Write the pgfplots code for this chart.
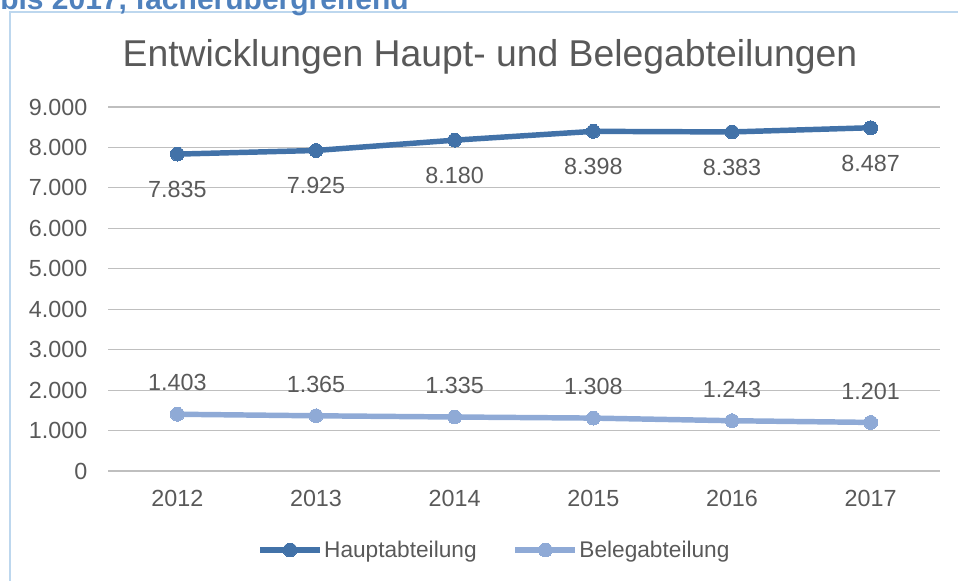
\documentclass[border=0pt]{standalone}
\usepackage{pgfplots}
\pgfplotsset{compat=1.18}
\usepackage{fontspec}
\setmainfont{Liberation Sans}
\definecolor{haupt}{RGB}{66,114,168}
\definecolor{beleg}{RGB}{143,170,214}
\definecolor{txt}{RGB}{89,89,89}
\definecolor{grid}{RGB}{217,217,217}
\definecolor{frame}{RGB}{189,215,238}
\definecolor{headblue}{RGB}{79,129,189}
\begin{document}
\begin{tikzpicture}
\useasboundingbox (0pt,0pt) rectangle (718.5pt,435.75pt);
\clip (0pt,0pt) rectangle (718.5pt,435.75pt);
\draw[frame,line width=1.1pt] (7.5pt,426.75pt) rectangle (740pt,-20pt);
\node[anchor=base west,inner sep=0pt,text=headblue,font=\fontsize{22.5}{24}\selectfont\bfseries] at (0pt,428.25pt) {bis 2017, fächerübergreifend};
\node[text=txt,font=\fontsize{28}{32}\selectfont] at (367.5pt,393pt) {Entwicklungen Haupt- und Belegabteilungen};
\begin{axis}[
  at={(81pt,82.5pt)}, anchor=south west,
  scale only axis, width=624pt, height=273pt,
  xmin=-0.5, xmax=5.5, ymin=0, ymax=9000,
  xtick={0,1,2,3,4,5},
  xticklabels={2012,2013,2014,2015,2016,2017},
  ytick={0,1000,...,9000},
  ymajorgrids, xmajorgrids=false, major grid style={grid,line width=0.9pt},
  axis line style={draw=none},
  tick style={draw=none},
  major tick length=0pt,
  tick label style={text=txt,font=\fontsize{17.5}{20}\selectfont},
  yticklabel style={xshift=-12pt},
  xticklabel style={yshift=-11pt},
  /pgf/number format/.cd, use comma, 1000 sep={.}, assume math mode=true,
  /pgfplots/.cd,
  nodes near coords,
  every node near coord/.append style={text=txt,font=\fontsize{17.5}{20}\selectfont,anchor=center},
  legend style={at={(0.464,-0.217)},anchor=center,draw=none,fill=none,legend columns=2,
    font=\fontsize{17}{20}\selectfont,text=txt,
    /tikz/every odd column/.append style={column sep=0pt},
    /tikz/every even column/.append style={column sep=26pt},
    inner sep=0pt, nodes={inner sep=1pt}},
  legend image code/.code={\draw[mark repeat=2,mark phase=2,#1] plot coordinates {(0pt,0pt) (22.5pt,0pt) (45pt,0pt)};},
  clip=false,
]
\addplot[haupt,line width=4.1pt,mark=*,mark size=5.2pt,mark options={solid,line width=0pt},
  every node near coord/.append style={yshift=-26.5pt}] coordinates {
  (0,7835) (1,7925) (2,8180) (3,8398) (4,8383) (5,8487)};
\addlegendentry{Hauptabteilung}
\addplot[beleg,line width=4.1pt,mark=*,mark size=5.2pt,mark options={solid,line width=0pt},
  every node near coord/.append style={yshift=23.5pt}] coordinates {
  (0,1403) (1,1365) (2,1335) (3,1308) (4,1243) (5,1201)};
\addlegendentry{Belegabteilung}
\end{axis}
\end{tikzpicture}
\end{document}
